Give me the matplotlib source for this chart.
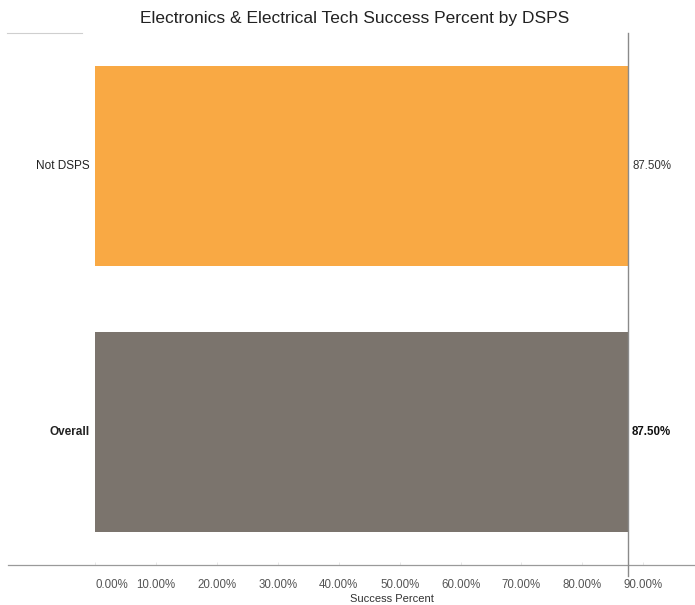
import matplotlib
matplotlib.use("Agg")
import matplotlib.pyplot as plt
import matplotlib.transforms as mtransforms
from matplotlib.ticker import FixedLocator, FuncFormatter

plt.rcParams['font.family'] = ['Liberation Sans', 'DejaVu Sans']

# Data
categories = ["Not DSPS", "Overall"]
success_pct = [87.50, 87.50]
bar_colors = ["#F9A944", "#7B746D"]
tick_values = [0, 10, 20, 30, 40, 50, 60, 70, 80, 90]
title = "Electronics & Electrical Tech Success Percent by DSPS"
x_label = "Success Percent"

W, H = 695, 605
fig = plt.figure(figsize=(W / 100, H / 100), dpi=100)
ax = fig.add_axes([8 / W, (H - 565) / H, (W - 8) / W, (565 - 33) / H])

ypos = list(range(len(categories)))
ax.barh(ypos, success_pct, height=0.75, color=bar_colors, edgecolor="none", zorder=2)

ax.set_xlim(-14.3, 98.5)
ax.set_ylim(len(categories) - 0.5, -0.5)

# Axis styling: only the bottom line remains
for side in ("top", "right", "left"):
    ax.spines[side].set_visible(False)
ax.spines["bottom"].set_color("#9a9a9a")
ax.spines["bottom"].set_linewidth(0.9)
ax.set_yticks([])

ax.xaxis.set_major_locator(FixedLocator(tick_values))
ax.xaxis.set_major_formatter(FuncFormatter(lambda v, p: f"{v:.2f}%"))
ax.tick_params(axis="x", direction="in", length=2, width=0.5, color="#dddddd",
               labelsize=8.3, labelcolor="#555555", pad=10)
first = ax.get_xticklabels()[0]
first.set_ha("left")

# Axis title below the tick labels
fig.text(392 / W, 1 - 599 / H, x_label, ha="center", va="center",
         fontsize=8, color="#333333")

# Reference line at the top value
ax.axvline(max(success_pct), ymin=-0.02, ymax=1.0, color="#8a8a8a", lw=1.0,
           zorder=3, clip_on=False)

# Category labels to the left of the bars, values to the right
left_off = mtransforms.offset_copy(ax.transData, fig=fig, x=-5, y=0, units="dots")
right_off = mtransforms.offset_copy(ax.transData, fig=fig, x=4, y=0, units="dots")
for i, (cat, val) in enumerate(zip(categories, success_pct)):
    weight = "bold" if cat == "Overall" else "normal"
    ax.text(0, i, cat, transform=left_off, ha="right", va="center",
            fontsize=8.5, color="#222222", fontweight=weight)
    ax.text(val, i, f"{val:.2f}%", transform=right_off, ha="left", va="center",
            fontsize=8.3, color="#333333" if weight == "normal" else "#111111",
            fontweight=weight)

# Thin rule at the upper left
fig.add_artist(plt.Line2D([7 / W, 82 / W], [1 - 33 / H, 1 - 33 / H],
                          color="#cfcfcf", lw=0.8))

fig.text(355 / W, 1 - 18 / H, title, ha="center", va="center",
         fontsize=12.5, color="#222222")

fig.savefig("out.png", dpi=100)
